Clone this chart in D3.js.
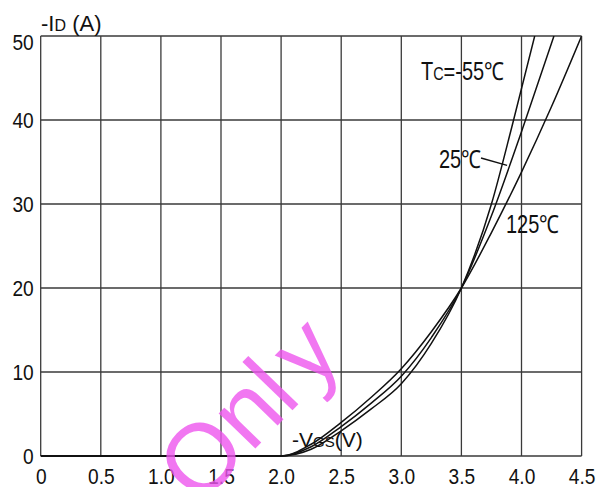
<!DOCTYPE html>
<html><head><meta charset="utf-8">
<script src="https://cdn.jsdelivr.net/npm/d3@7"></script>
<style>
html,body{margin:0;padding:0;background:#fff;}
svg{display:block;}
text{font-family:"Liberation Sans",Arial,sans-serif;fill:#111;}
</style></head>
<body>
<svg id="chart" width="606" height="487"></svg>
<script>
// ---- data ----
const xTicks = [0, 0.5, 1.0, 1.5, 2.0, 2.5, 3.0, 3.5, 4.0, 4.5];
const yTicks = [0, 10, 20, 30, 40, 50];
const seriesNames = ["Tc=-55℃", "25℃", "125℃"];
const vgsM55 = [0, 2.0, 2.25, 2.5, 2.75, 3.0, 3.25, 3.5, 3.75, 3.92, 4.11];
const idM55  = [0, 0, 0.8, 3.0, 5.6, 8.6, 13.4, 20, 30.0, 39.2, 50];
const vgs25  = [0, 2.0, 2.25, 2.5, 2.75, 3.0, 3.25, 3.5, 3.75, 4.0, 4.27];
const id25   = [0, 0, 1.1, 3.5, 6.3, 9.5, 14.1, 20, 28.6, 38.6, 50];
const vgs125 = [0, 2.0, 2.25, 2.5, 2.75, 3.0, 3.25, 3.5, 3.75, 4.0, 4.25, 4.5];
const id125  = [0, 0, 1.4, 4.0, 7.0, 10.4, 14.8, 20, 26.6, 33.8, 41.6, 50];

const svg = d3.select("#chart");
const x = d3.scaleLinear().domain([0, 4.5]).range([40.7, 581.6]);
const y = d3.scaleLinear().domain([0, 50]).range([456, 36]);

// grid
const grid = svg.append("g");
grid.selectAll("line.v").data(xTicks).join("line")
  .attr("x1", d => x(d)).attr("x2", d => x(d))
  .attr("y1", y(0)).attr("y2", y(50))
  .attr("stroke", "#3a3a3a").attr("stroke-width", 1.3);
grid.selectAll("line.h").data(yTicks).join("line")
  .attr("y1", d => y(d)).attr("y2", d => y(d))
  .attr("x1", x(0)).attr("x2", x(4.5))
  .attr("stroke", "#3a3a3a").attr("stroke-width", 1.3);

// axes labels
const xAxis = svg.append("g").attr("transform", `translate(0,${y(0)})`)
  .call(d3.axisBottom(x).tickValues(xTicks).tickSize(0).tickPadding(12)
    .tickFormat(d => d === 0 ? "0" : d.toFixed(1)));
xAxis.select(".domain").remove();
xAxis.selectAll("text").attr("font-size", 22).attr("fill", "#111")
  .attr("font-family", "'Liberation Sans',Arial,sans-serif")
  .attr("transform", "scale(0.87,1)");

const yAxis = svg.append("g").attr("transform", `translate(${x(0)},0)`)
  .call(d3.axisLeft(y).tickValues(yTicks).tickSize(0).tickPadding(8).tickFormat(d3.format("d")));
yAxis.select(".domain").remove();
yAxis.selectAll("text").attr("font-size", 22).attr("fill", "#111")
  .attr("font-family", "'Liberation Sans',Arial,sans-serif")
  .attr("transform", "scale(0.87,1)")
  .attr("dy", d => d === 50 ? "0.6em" : "0.35em");

// curves
svg.append("clipPath").attr("id", "clip").append("rect")
  .attr("x", x(0)).attr("y", y(50)).attr("width", x(4.5) - x(0)).attr("height", y(0) - y(50) + 2);
const line = d3.line().x(d => x(d[0])).y(d => y(d[1])).curve(d3.curveMonotoneX);
const series = [
  d3.zip(vgsM55, idM55),
  d3.zip(vgs25, id25),
  d3.zip(vgs125, id125)
];
svg.append("g").attr("clip-path", "url(#clip)")
  .selectAll("path").data(series).join("path")
  .attr("d", line).attr("fill", "none").attr("stroke", "#111").attr("stroke-width", 1.5);

// axis titles
const yt = svg.append("text").attr("x", 41).attr("y", 31).attr("font-size", 22);
yt.append("tspan").text("-I");
yt.append("tspan").attr("font-size", 16).text("D");
yt.append("tspan").text(" (A)");

const xt = svg.append("text").attr("x", 292).attr("y", 447).attr("font-size", 21);
xt.append("tspan").text("-V");
xt.append("tspan").attr("font-size", 15).text("GS");
xt.append("tspan").text("(V)");

// series labels (horizontally condensed)
const l1 = svg.append("text").attr("transform", "translate(421,80) scale(0.8,1)").attr("font-size", 25);
l1.append("tspan").text("T");
l1.append("tspan").attr("font-size", 18).text("C");
l1.append("tspan").text("=-55℃");
svg.append("text").attr("transform", "translate(439,168) scale(0.8,1)").attr("font-size", 25).text(seriesNames[1]);
svg.append("text").attr("transform", "translate(506,233) scale(0.8,1)").attr("font-size", 25).text(seriesNames[2]);
// leader line to 25 curve
svg.append("line").attr("x1", 481).attr("y1", 158)
  .attr("x2", x(3.88)).attr("y2", y(34.6))
  .attr("stroke", "#111").attr("stroke-width", 1.3);

// watermark
const wm = svg.append("text")
  .attr("transform", "translate(199,507) rotate(-46)")
  .attr("text-anchor", "start")
  .attr("font-size", 96)
  .attr("font-family", "'Liberation Sans',Arial,sans-serif")
  .style("fill", "#ee55ee").attr("fill-opacity", 0.8);
wm.append("tspan").text("Onl");
wm.append("tspan").attr("dx", 12).text("y");
</script>
</body></html>
